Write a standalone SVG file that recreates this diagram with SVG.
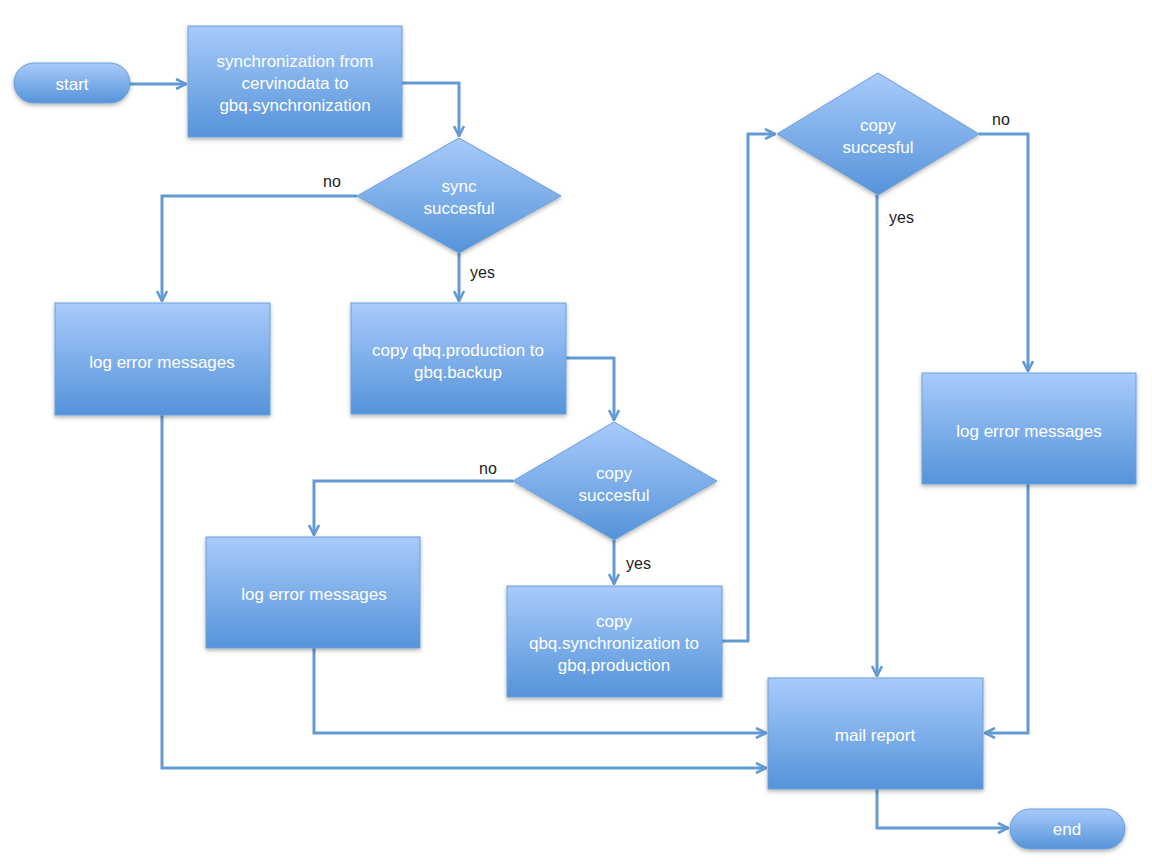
<svg xmlns="http://www.w3.org/2000/svg" width="1152" height="864" viewBox="0 0 1152 864">
<defs>
<linearGradient id="g" x1="0" y1="0" x2="0" y2="1">
<stop offset="0" stop-color="#a8cbfb"/>
<stop offset="1" stop-color="#5593d9"/>
</linearGradient>
<filter id="sh" x="-10%" y="-10%" width="120%" height="130%">
<feDropShadow dx="0" dy="2" stdDeviation="2" flood-color="#000" flood-opacity="0.3"/>
</filter>
<marker id="ah" viewBox="0 0 12 12" refX="11" refY="6" markerWidth="12" markerHeight="12" markerUnits="userSpaceOnUse" orient="auto">
<path d="M1,1 L11,6 L1,11" fill="none" stroke="#6399d4" stroke-width="2.6" stroke-linejoin="miter"/>
</marker>
<style>
.n{fill:url(#g);stroke:#6a9fd9;stroke-width:1;filter:url(#sh)}
.t{font-family:"Liberation Sans",Arial,sans-serif;font-size:17px;fill:#ffffff;text-anchor:middle}
.l{font-family:"Liberation Sans",Arial,sans-serif;font-size:16px;fill:#222222}
.c{fill:none;stroke:#6399d4;stroke-width:3;marker-end:url(#ah)}
</style>
</defs>
<rect width="1152" height="864" fill="#ffffff"/>
<g id="connectors">
<path class="c" d="M130,84 L186,84"/>
<path class="c" d="M402,83 L459,83 L459,136"/>
<path class="c" d="M357,196 L162,196 L162,301"/>
<path class="c" d="M459,253 L459,301"/>
<path class="c" d="M566,358 L614,358 L614,420"/>
<path class="c" d="M513,481 L314,481 L314,535"/>
<path class="c" d="M614,540 L614,584"/>
<path class="c" d="M722,641 L748,641 L748,134 L775,134"/>
<path class="c" d="M979,134 L1028,134 L1028,371"/>
<path class="c" d="M877,195 L877,676"/>
<path class="c" d="M1028,484 L1028,733 L985,733"/>
<path class="c" d="M314,648 L314,733 L766,733"/>
<path class="c" d="M162,415 L162,768 L766,768"/>
<path class="c" d="M877,789 L877,828 L1008,828"/>
<text class="l" x="323" y="187">no</text>
<text class="l" x="470" y="278">yes</text>
<text class="l" x="479" y="474">no</text>
<text class="l" x="626" y="569">yes</text>
<text class="l" x="992" y="125">no</text>
<text class="l" x="889" y="223">yes</text>
</g>
<g id="start">
<rect class="n" x="14" y="63" width="116" height="40" rx="20"/>
<text class="t" x="72" y="90">start</text>
</g>
<g id="sync">
<rect class="n" x="188" y="26" width="214" height="111"/>
<text class="t" x="295" y="67">synchronization from</text>
<text class="t" x="295" y="89">cervinodata to</text>
<text class="t" x="295" y="111">gbq.synchronization</text>
</g>
<g id="d1">
<polygon class="n" points="459,138 561,196 459,253 357,196"/>
<text class="t" x="459" y="192">sync</text>
<text class="t" x="459" y="214">succesful</text>
</g>
<g id="log1">
<rect class="n" x="55" y="303" width="215" height="112"/>
<text class="t" x="162" y="368">log error messages</text>
</g>
<g id="backup">
<rect class="n" x="351" y="303" width="215" height="111"/>
<text class="t" x="458" y="356">copy qbq.production to</text>
<text class="t" x="458" y="378">gbq.backup</text>
</g>
<g id="d2">
<polygon class="n" points="614,422 717,481 614,540 513,481"/>
<text class="t" x="614" y="479">copy</text>
<text class="t" x="614" y="501">succesful</text>
</g>
<g id="log2">
<rect class="n" x="206" y="537" width="214" height="111"/>
<text class="t" x="314" y="600">log error messages</text>
</g>
<g id="prod">
<rect class="n" x="507" y="586" width="215" height="111"/>
<text class="t" x="614" y="627">copy</text>
<text class="t" x="614" y="649">qbq.synchronization to</text>
<text class="t" x="614" y="671">gbq.production</text>
</g>
<g id="d3">
<polygon class="n" points="878,73 979,134 878,195 777,134"/>
<text class="t" x="878" y="131">copy</text>
<text class="t" x="878" y="153">succesful</text>
</g>
<g id="log3">
<rect class="n" x="922" y="373" width="214" height="111"/>
<text class="t" x="1029" y="437">log error messages</text>
</g>
<g id="mail">
<rect class="n" x="768" y="678" width="215" height="111"/>
<text class="t" x="875" y="741">mail report</text>
</g>
<g id="end">
<rect class="n" x="1010" y="809" width="115" height="40" rx="20"/>
<text class="t" x="1067" y="835">end</text>
</g>
</svg>
